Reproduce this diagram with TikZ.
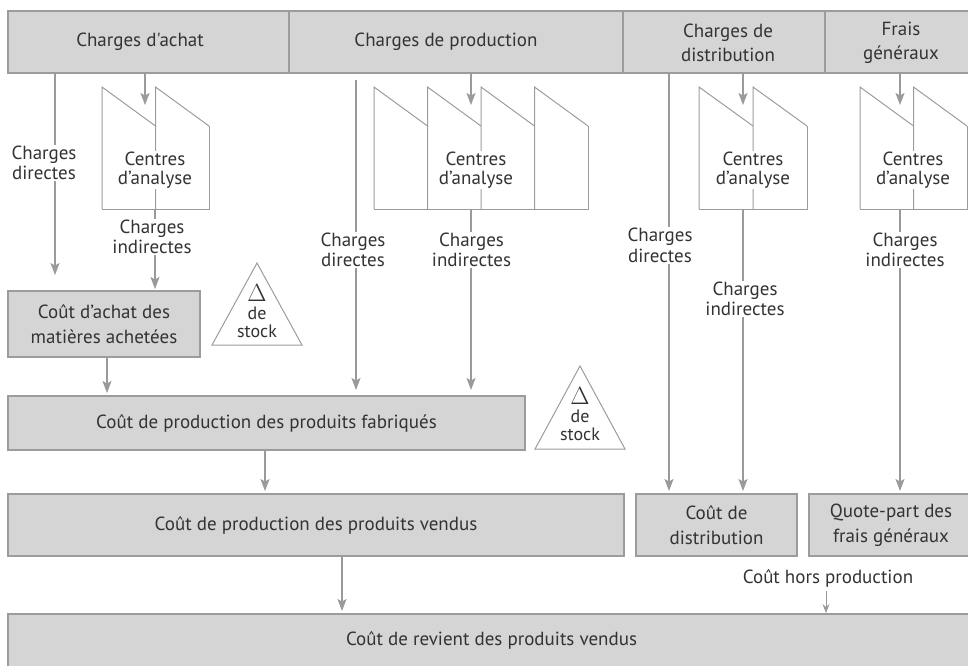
\documentclass[tikz,border=0pt]{standalone}
\usepackage{fontspec}
\newfontfamily\dfont{PT Sans}
\usetikzlibrary{arrows.meta}
\definecolor{boxfill}{HTML}{D5D5D5}
\definecolor{boxline}{HTML}{9C9C9C}
\definecolor{arrcol}{HTML}{9A9A9A}
\definecolor{txt}{HTML}{333333}
\tikzset{
  every node/.style={font=\dfont\fontsize{19}{20}\selectfont, text=txt},
  box/.style={draw=boxline, fill=boxfill, line width=1.2pt, inner sep=0pt, align=center, font=\dfont\fontsize{19}{25}\selectfont},
  arr/.style={draw=arrcol, line width=1.2pt, -{Stealth[length=12pt,width=9pt,inset=2.5pt]}},
  smallarr/.style={draw=arrcol, line width=1pt, -{Stealth[length=9pt,width=7pt,inset=3pt]}},
  fac/.style={draw=boxline, line width=1pt, line join=miter},
  lbl/.style={fill=white, inner sep=1pt, align=center, font=\dfont\fontsize{19}{20.5}\selectfont},
  ctr/.style={fill=white, inner sep=1pt, align=center, font=\dfont\fontsize{19}{18.5}\selectfont},
  stk/.style={align=center, inner sep=0pt, font=\dfont\fontsize{18}{18}\selectfont},
}
\newcommand\drawfactory[3]{%
  \foreach \i in {1,...,#3} {
    \draw[fac] ({#1+(\i-1)*#2},209) -- ({#1+(\i-1)*#2},87) -- ({#1+\i*#2},126);
  }
  \draw[fac] ({#1+#3*#2},126) -- ({#1+#3*#2},209) -- (#1,209);
}
\newcommand\bigdelta{{\fontsize{24}{18}\selectfont$\Delta$}}
\begin{document}
\begin{tikzpicture}[x=1pt,y=-1pt]
\useasboundingbox (0,0) rectangle (968,665);
\clip (0,0) rectangle (968,665);

% top bar
\node[box, minimum width=281pt, minimum height=62pt] (achat) at (148.5,42) {};
\node[box, minimum width=334pt, minimum height=62pt] (prod) at (456,42) {};
\node[box, minimum width=202pt, minimum height=62pt] (dist) at (724,42) {};
\node[box, minimum width=160pt, minimum height=62pt] (frais) at (905,42) {};
\node (achatT) at (140,42) {Charges d'achat};
\node (prodT) at (446,42) {Charges de production};
\node[align=center, font=\dfont\fontsize{19}{23.5}\selectfont] (distT) at (728,43) {Charges de\\distribution};
\node[align=center, font=\dfont\fontsize{19}{23.5}\selectfont] (fraisT) at (901,43) {Frais\\généraux};

% factories
\drawfactory{102}{53.5}{2}
\drawfactory{374}{53.5}{4}
\drawfactory{699}{54}{2}
\drawfactory{860}{53.5}{2}

% lower boxes
\node[box, minimum width=192pt, minimum height=66pt] (achatbox) at (104,324) {Coût d’achat des\\matières achetées};
\node[box, minimum width=517pt, minimum height=54pt] (fabr) at (266.5,423) {Coût de production des produits fabriqués};
\node[box, minimum width=616pt, minimum height=62pt] (vendus) at (316,525) {Coût de production des produits vendus};
\node[box, minimum width=161pt, minimum height=62pt] (distbox) at (716.5,525) {Coût de\\distribution};
\node[box, minimum width=164pt, minimum height=62pt] (fraisbox) at (891,525) {Quote-part des\\frais généraux};
\node[box, minimum width=967pt, minimum height=53pt] (revient) at (491.5,640.5) {Coût de revient des produits vendus};

% coordinates
\coordinate (aT0) at (145,73);  \coordinate (aT1) at (145,105);
\coordinate (pT0) at (471,73);  \coordinate (pT1) at (471,105);
\coordinate (dT0) at (743,73);  \coordinate (dT1) at (743,105);
\coordinate (fT0) at (900,73);  \coordinate (fT1) at (900,105);
\coordinate (aD0) at (55,73);   \coordinate (aD1) at (55,275);
\coordinate (aI0) at (155,209); \coordinate (aI1) at (155,289);
\coordinate (pD0) at (356,80);  \coordinate (pD1) at (356,390);
\coordinate (pI0) at (471,209); \coordinate (pI1) at (471,390);
\coordinate (dD0) at (669,73);  \coordinate (dD1) at (669,491);
\coordinate (dI0) at (743,209); \coordinate (dI1) at (743,491);
\coordinate (fI0) at (900,209); \coordinate (fI1) at (900,491);
\coordinate (ab0) at (107,357); \coordinate (ab1) at (107,393);
\coordinate (fb0) at (265,450); \coordinate (fb1) at (265,491);
\coordinate (vb0) at (342,556); \coordinate (vb1) at (342,611);
\coordinate (hp0) at (826,591); \coordinate (hp1) at (826,613);

% arrows
\draw[arr] (aT0) -- (aT1);
\draw[arr] (pT0) -- (pT1);
\draw[arr] (dT0) -- (dT1);
\draw[arr] (fT0) -- (fT1);
\draw[arr] (aD0) -- (aD1);
\draw[arr] (aI0) -- (aI1);
\draw[arr] (pD0) -- (pD1);
\draw[arr] (pI0) -- (pI1);
\draw[arr] (dD0) -- (dD1);
\draw[arr] (dI0) -- (dI1);
\draw[arr] (fI0) -- (fI1);
\draw[arr] (ab0) -- (ab1);
\draw[arr] (fb0) -- (fb1);
\draw[arr] (vb0) -- (vb1);
\draw[smallarr] (hp0) -- (hp1);

% centres labels
\node[ctr] (cA) at (155,170) {Centres\\d’analyse};
\node[ctr] (cP) at (476,170) {Centres\\d’analyse};
\node[ctr] (cD) at (753,170) {Centres\\d’analyse};
\node[ctr] (cF) at (913,170) {Centres\\d’analyse};

% line labels
\node[lbl] (ldA) at (44,163) {Charges\\directes};
\node[lbl] (liA) at (152,237) {Charges\\indirectes};
\node[lbl] (ldP) at (353,250) {Charges\\directes};
\node[lbl] (liP) at (471.5,250) {Charges\\indirectes};
\node[lbl] (ldD) at (660,245.5) {Charges\\directes};
\node[lbl] (liD) at (745,299) {Charges\\indirectes};
\node[lbl] (liF) at (905,250) {Charges\\indirectes};

% stock triangles
\draw[fac, fill=white] (257,263) -- (302,345) -- (212,345) -- cycle;
\node[stk] (st1) at (257,311) {\bigdelta\\de\\stock};
\draw[fac, fill=white] (580,366) -- (625,449) -- (535,449) -- cycle;
\node[stk] (st2) at (580,414) {\bigdelta\\de\\stock};

% hors production
\node (hp) at (828,578) {Coût hors production};
\end{tikzpicture}
\end{document}
